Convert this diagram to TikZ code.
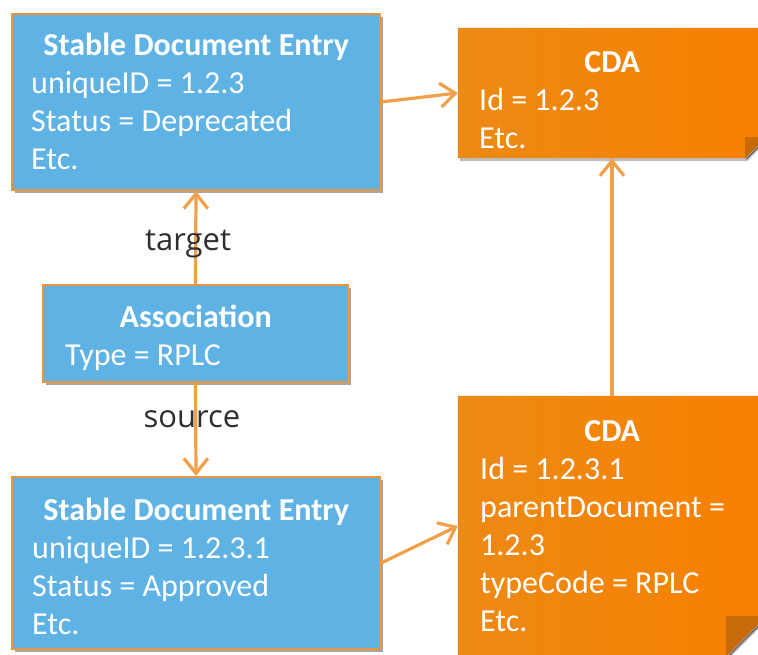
\documentclass[tikz,border=0pt]{standalone}
\usepackage{fontspec}
\setmainfont{Carlito}
\newfontfamily\lblfont{Open Sans}
\usetikzlibrary{arrows.meta,shadows}
\definecolor{boxblue}{HTML}{5FB3E4}
\definecolor{boxedge}{HTML}{E8953C}
\definecolor{cdaL}{HTML}{EC8A14}
\definecolor{cdaR}{HTML}{F88000}
\definecolor{flapc}{HTML}{C8690A}
\definecolor{arrowc}{HTML}{F0A049}
\definecolor{lblc}{HTML}{2E2E2E}
\newcommand\myboxfont{\fontsize{32}{38}\selectfont}
\tikzset{
  bluebox/.style={draw=boxedge,line width=2.2pt,fill=boxblue,inner sep=0pt,
    drop shadow={shadow xshift=3pt,shadow yshift=-3pt,opacity=.35,fill=black}},
  cdabox/.style={inner sep=0pt},
  boxtext/.style={anchor=base west,inner sep=0pt,text=white,align=flush left,font=\myboxfont},
  lbl/.style={anchor=base,inner sep=0pt,text=lblc,font=\lblfont\fontsize{31}{38}\selectfont},
  conn/.style={draw=arrowc,line width=3.2pt,-{Straight Barb[length=15pt,width=24pt]}},
}
\newcommand\cdashape[2]{%
  \fill[black,opacity=.25] ([xshift=2pt,yshift=-3pt]#1.north west) -- ([xshift=2pt,yshift=-3pt]#1.north east)
    -- ([xshift=2pt,yshift=#2-3pt]#1.south east) -- ([xshift=2pt-#2,yshift=-3pt]#1.south east)
    -- ([xshift=2pt,yshift=-3pt]#1.south west) -- cycle;
  \shade[left color=cdaL,right color=cdaR] (#1.north west) -- (#1.north east)
    -- ([yshift=#2]#1.south east) -- ([xshift=-#2]#1.south east) -- (#1.south west) -- cycle;
  \fill[flapc] ([xshift=-#2]#1.south east) -- ([yshift=#2]#1.south east)
    -- ([xshift=-#2,yshift=#2]#1.south east) -- cycle;
  \draw[black,opacity=.45,line width=1.5pt] ([xshift=-#2+1pt,yshift=-1pt]#1.south east) -- ([xshift=1pt,yshift=#2-1pt]#1.south east);
}
\begin{document}
\begin{tikzpicture}[x=1pt,y=-1pt]
\useasboundingbox[fill=white] (0,0) rectangle (758,654);
% boxes
\node[bluebox,minimum width=368pt,minimum height=176pt] (sde1) at (196,102) {};
\node[bluebox,minimum width=305pt,minimum height=97pt] (assoc) at (195.5,333.5) {};
\node[bluebox,minimum width=368pt,minimum height=172pt] (sde2) at (196,563) {};
\node[cdabox,minimum width=308pt,minimum height=130pt] (cda1) at (612,93) {};
\node[cdabox,minimum width=308pt,minimum height=260pt] (cda2) at (612,526) {};
\cdashape{cda1}{21pt}
\cdashape{cda2}{40pt}
% texts
\node[boxtext,text width=330pt] (t1) at (31,55)
  {{\centering\bfseries Stable Document Entry\par}uniqueID = 1.2.3\\Status = Deprecated\\Etc.};
\node[boxtext,text width=261pt] (t2) at (65,327)
  {{\centering\bfseries Association\par}Type = RPLC};
\node[boxtext,text width=328pt] (t3) at (32,520)
  {{\centering\bfseries Stable Document Entry\par}uniqueID = 1.2.3.1\\Status = Approved\\Etc.};
\node[boxtext,text width=266pt] (t4) at (479,72)
  {{\centering\bfseries CDA\par}Id = 1.2.3\\Etc.};
\node[boxtext,text width=264pt] (t5) at (480,441)
  {{\centering\bfseries CDA\par}Id = 1.2.3.1\\parentDocument =\\1.2.3\\typeCode = RPLC\\Etc.};
% connectors
\draw[conn] (assoc.north) -- (sde1.south);
\draw[conn] (assoc.south) -- (sde2.north);
\draw[conn] (sde1.east) -- (cda1.west);
\draw[conn] (sde2.east) -- (cda2.west);
\draw[conn] (cda2.north) -- (cda1.south);
\node[lbl] (ltarget) at (188,250) {target};
\node[lbl] (lsource) at (192,427) {source};
\end{tikzpicture}
\end{document}
